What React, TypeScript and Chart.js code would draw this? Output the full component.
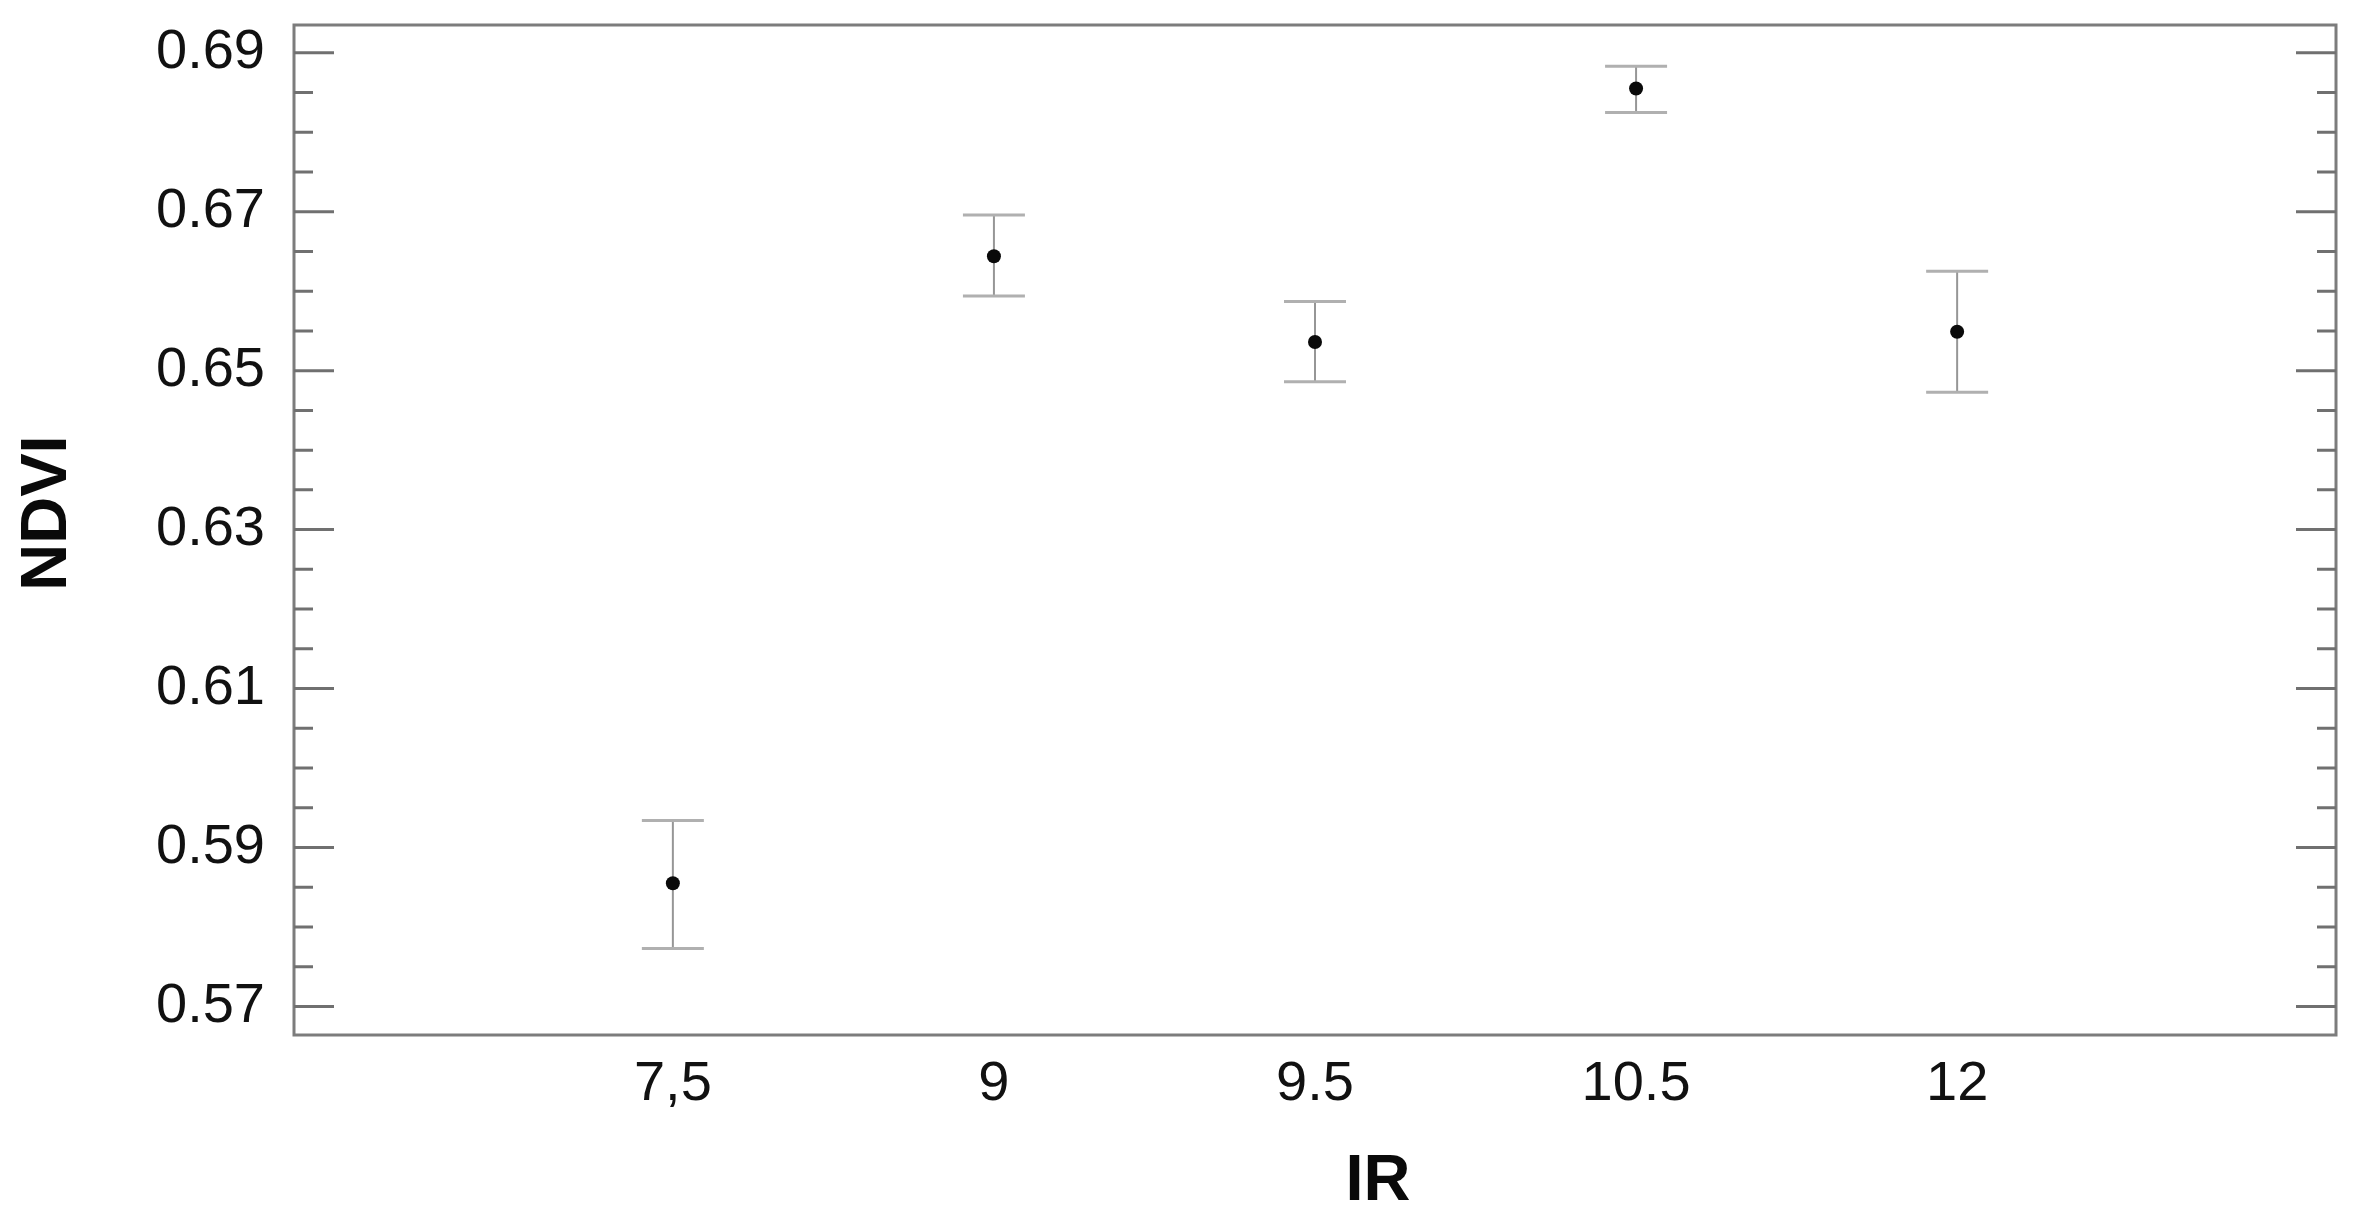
import React, { useEffect, useRef } from 'react';
import { Chart, registerables } from 'chart.js';

Chart.register(...registerables);

// ---- data ----
const irLabels = ['7,5', '9', '9.5', '10.5', '12'];
const ndviMeans = [0.5855, 0.6644, 0.6536, 0.6855, 0.6549];
const ndviUpper = [0.5934, 0.6696, 0.6587, 0.6883, 0.6625];
const ndviLower = [0.5773, 0.6594, 0.6486, 0.6825, 0.6473];
const yTickValues = [0.57, 0.59, 0.61, 0.63, 0.65, 0.67, 0.69];
const yAxisMin = 0.5664;
const yAxisMax = 0.6935;
const xAxisMin = -1.18;
const xAxisMax = 5.18;
const xTitle = 'IR';
const yTitle = 'NDVI';

const FONT = '"Liberation Sans", Arial, sans-serif';

const decorPlugin = {
  id: 'decor',
  beforeDatasetsDraw(chart: any) {
    const { ctx, scales } = chart;
    const xs = scales.x;
    const ys = scales.y;
    ctx.save();
    ndviMeans.forEach((_, i) => {
      const px = xs.getPixelForValue(i);
      const pu = ys.getPixelForValue(ndviUpper[i]);
      const pl = ys.getPixelForValue(ndviLower[i]);
      ctx.strokeStyle = '#969696';
      ctx.lineWidth = 2;
      ctx.beginPath();
      ctx.moveTo(px, pu);
      ctx.lineTo(px, pl);
      ctx.stroke();
      ctx.strokeStyle = '#b0b0b0';
      ctx.lineWidth = 3;
      ctx.beginPath();
      ctx.moveTo(px - 31, pu);
      ctx.lineTo(px + 31, pu);
      ctx.moveTo(px - 31, pl);
      ctx.lineTo(px + 31, pl);
      ctx.stroke();
    });
    ctx.restore();
  },
  afterDraw(chart: any) {
    const { ctx, chartArea: a, scales } = chart;
    const ys = scales.y;
    ctx.save();
    // frame
    ctx.strokeStyle = '#7c7c7c';
    ctx.lineWidth = 3;
    ctx.strokeRect(a.left, a.top, a.right - a.left, a.bottom - a.top);
    // inward ticks on left and right
    ctx.strokeStyle = '#707070';
    ctx.lineWidth = 3;
    ctx.beginPath();
    for (let k = 0; k < yTickValues.length; k++) {
      const v = yTickValues[k];
      const p = ys.getPixelForValue(v);
      ctx.moveTo(a.left, p);
      ctx.lineTo(a.left + 40, p);
      ctx.moveTo(a.right, p);
      ctx.lineTo(a.right - 40, p);
      if (k < yTickValues.length - 1) {
        const step = (yTickValues[k + 1] - v) / 4;
        for (let m = 1; m < 4; m++) {
          const pm = ys.getPixelForValue(v + step * m);
          ctx.moveTo(a.left, pm);
          ctx.lineTo(a.left + 19, pm);
          ctx.moveTo(a.right, pm);
          ctx.lineTo(a.right - 19, pm);
        }
      }
    }
    ctx.stroke();
    // axis titles
    ctx.fillStyle = '#0a0a0a';
    ctx.font = `bold 65px ${FONT}`;
    ctx.textAlign = 'center';
    ctx.textBaseline = 'alphabetic';
    ctx.fillText(xTitle, 1378, 1200);
    ctx.translate(48, 513);
    ctx.rotate(-Math.PI / 2);
    ctx.textBaseline = 'middle';
    ctx.fillText(yTitle, 0, 0);
    ctx.restore();
  },
};

export default function App() {
  const canvasRef = useRef<HTMLCanvasElement | null>(null);

  useEffect(() => {
    if (!canvasRef.current) return;
    const chart = new Chart(canvasRef.current, {
      type: 'scatter',
      data: {
        datasets: [
          {
            label: 'NDVI',
            data: ndviMeans.map((v, i) => ({ x: i, y: v })),
            pointRadius: 7,
            pointHoverRadius: 7,
            pointBackgroundColor: '#0a0a0a',
            pointBorderWidth: 0,
            showLine: false,
          },
        ],
      },
      options: {
        animation: false,
        responsive: false,
        layout: { padding: { left: 0, top: 25, right: 33, bottom: 0 } },
        plugins: {
          legend: { display: false },
          tooltip: { enabled: false },
        },
        scales: {
          x: {
            type: 'linear',
            min: xAxisMin,
            max: xAxisMax,
            afterBuildTicks: (s: any) => {
              s.ticks = irLabels.map((_, i) => ({ value: i }));
            },
            afterFit: (s: any) => {
              s.height = 182;
              s.paddingLeft = 0;
              s.paddingRight = 0;
              s.paddingTop = 0;
              s.paddingBottom = 0;
            },
            grid: { display: false, drawTicks: false },
            border: { display: false },
            ticks: {
              padding: 16,
              color: '#111111',
              font: { family: FONT, size: 56 },
              maxRotation: 0,
              autoSkip: false,
              callback: (v: any) => irLabels[Math.round(Number(v))] ?? '',
            },
          },
          y: {
            type: 'linear',
            min: yAxisMin,
            max: yAxisMax,
            afterBuildTicks: (s: any) => {
              s.ticks = yTickValues.map((v) => ({ value: v }));
            },
            afterFit: (s: any) => {
              s.width = 294;
              s.paddingLeft = 0;
              s.paddingRight = 0;
              s.paddingTop = 0;
              s.paddingBottom = 0;
            },
            grid: { display: false, drawTicks: false },
            border: { display: false },
            ticks: {
              padding: 29,
              color: '#111111',
              font: { family: FONT, size: 56 },
              autoSkip: false,
              callback: (v: any) => Number(v).toFixed(2),
            },
          },
        },
      },
      plugins: [decorPlugin],
    });
    return () => chart.destroy();
  }, []);

  return (
    <div
      style={{
        position: 'fixed',
        left: 0,
        top: 0,
        width: 2369,
        height: 1217,
        background: '#ffffff',
      }}
    >
      <canvas ref={canvasRef} width={2369} height={1217} style={{ display: 'block' }} />
    </div>
  );
}
